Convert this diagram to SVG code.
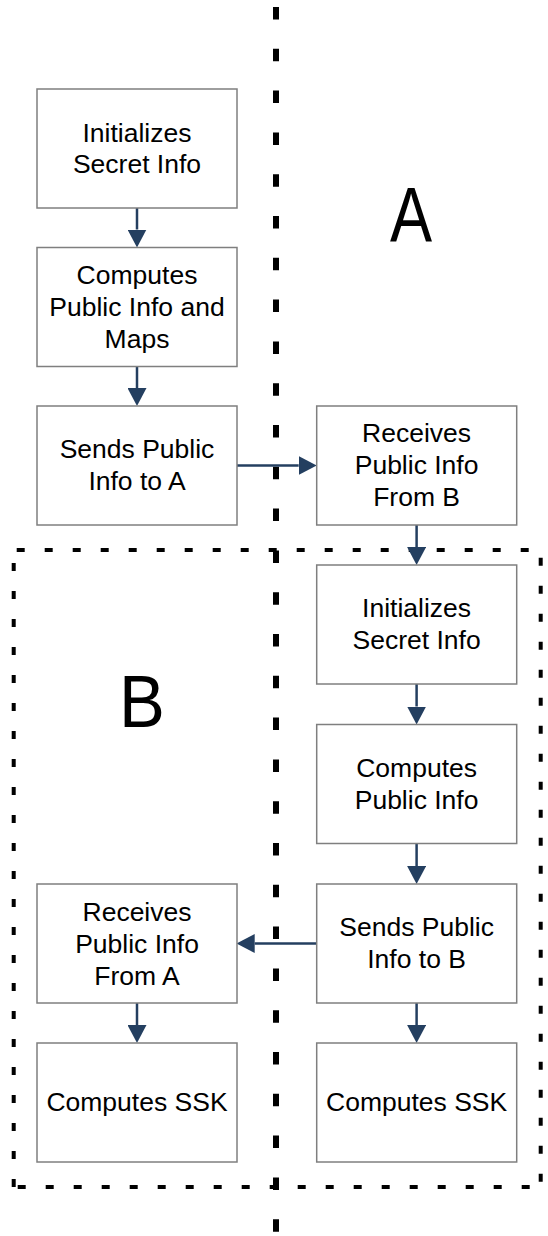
<svg xmlns="http://www.w3.org/2000/svg" width="548" height="1236" viewBox="0 0 548 1236">
<style>
.box{fill:#fff;stroke:#7f7f7f;stroke-width:1.5}
.t{font-family:"Liberation Sans",Arial,sans-serif;font-size:26.5px;fill:#000;text-anchor:middle}
.big{font-family:"Liberation Sans",Arial,sans-serif;fill:#000}
.conn{stroke:#243f60;stroke-width:2.5;fill:none;marker-end:url(#ah)}
.dv{stroke:#000;stroke-width:6;fill:none;stroke-dasharray:12.5 29.3}
.db{stroke:#000;stroke-width:4;fill:none;stroke-dasharray:8 20}
</style>
<defs>
<marker id="ah" viewBox="0 0 18 19" refX="0" refY="9.5" markerWidth="18" markerHeight="19" markerUnits="userSpaceOnUse" orient="auto">
<path d="M0,0 L18,9.5 L0,19 Z" fill="#243f60"/>
</marker>
</defs>
<g id="separators">
<line class="dv" x1="276" y1="7" x2="276" y2="1236"/>
<line class="db" x1="16.7" y1="550" x2="542" y2="550"/>
<line class="db" x1="17.7" y1="1187" x2="542" y2="1187"/>
<line class="db" x1="540.7" y1="557.7" x2="540.7" y2="1187"/>
<line class="db" x1="13.7" y1="563" x2="13.7" y2="1189"/>
</g>
<g id="label-A"><text class="big" font-size="77" transform="translate(390,242) scale(0.82,1)">A</text></g>
<g id="label-B"><text class="big" font-size="74" transform="translate(119,726.7) scale(0.93,1)">B</text></g>
<g id="connectors">
<line class="conn" x1="137" y1="208" x2="137" y2="229.5"/>
<line class="conn" x1="137" y1="366.5" x2="137" y2="388"/>
<line class="conn" x1="236.7" y1="465.5" x2="298.7" y2="465.5"/>
<line class="conn" x1="416.6" y1="525" x2="416.6" y2="547"/>
<line class="conn" x1="416.6" y1="684" x2="416.6" y2="706.5"/>
<line class="conn" x1="416.6" y1="843.5" x2="416.6" y2="866"/>
<line class="conn" x1="416.6" y1="1003" x2="416.6" y2="1025"/>
<line class="conn" x1="316.7" y1="943.5" x2="254.7" y2="943.5"/>
<line class="conn" x1="137" y1="1003" x2="137" y2="1025"/>
</g>
<g id="n1"><rect class="box" x="37" y="89" width="200" height="119"/>
<text class="t"><tspan x="137" y="141.7">Initializes</tspan><tspan x="137" y="173.3">Secret Info</tspan></text></g>
<g id="n2"><rect class="box" x="37" y="247.5" width="200" height="119"/>
<text class="t"><tspan x="137" y="284">Computes</tspan><tspan x="137" y="316">Public Info and</tspan><tspan x="137" y="348">Maps</tspan></text></g>
<g id="n3"><rect class="box" x="37" y="406" width="200" height="119"/>
<text class="t"><tspan x="137" y="457.5">Sends Public</tspan><tspan x="137" y="490">Info to A</tspan></text></g>
<g id="n4"><rect class="box" x="316.7" y="406" width="200" height="119"/>
<text class="t"><tspan x="416.6" y="442">Receives</tspan><tspan x="416.6" y="474">Public Info</tspan><tspan x="416.6" y="506">From B</tspan></text></g>
<g id="n5"><rect class="box" x="316.7" y="565" width="200" height="119"/>
<text class="t"><tspan x="416.6" y="617">Initializes</tspan><tspan x="416.6" y="649">Secret Info</tspan></text></g>
<g id="n6"><rect class="box" x="316.7" y="724.5" width="200" height="119"/>
<text class="t"><tspan x="416.6" y="777">Computes</tspan><tspan x="416.6" y="809">Public Info</tspan></text></g>
<g id="n7"><rect class="box" x="316.7" y="884" width="200" height="119"/>
<text class="t"><tspan x="416.6" y="936">Sends Public</tspan><tspan x="416.6" y="968">Info to B</tspan></text></g>
<g id="n8"><rect class="box" x="316.7" y="1043" width="200" height="119"/>
<text class="t" x="416.6" y="1110.5">Computes SSK</text></g>
<g id="n9"><rect class="box" x="37" y="884" width="200" height="119"/>
<text class="t"><tspan x="137" y="920.5">Receives</tspan><tspan x="137" y="952.5">Public Info</tspan><tspan x="137" y="984.5">From A</tspan></text></g>
<g id="n10"><rect class="box" x="37" y="1043" width="200" height="119"/>
<text class="t" x="137" y="1110.5">Computes SSK</text></g>
</svg>
